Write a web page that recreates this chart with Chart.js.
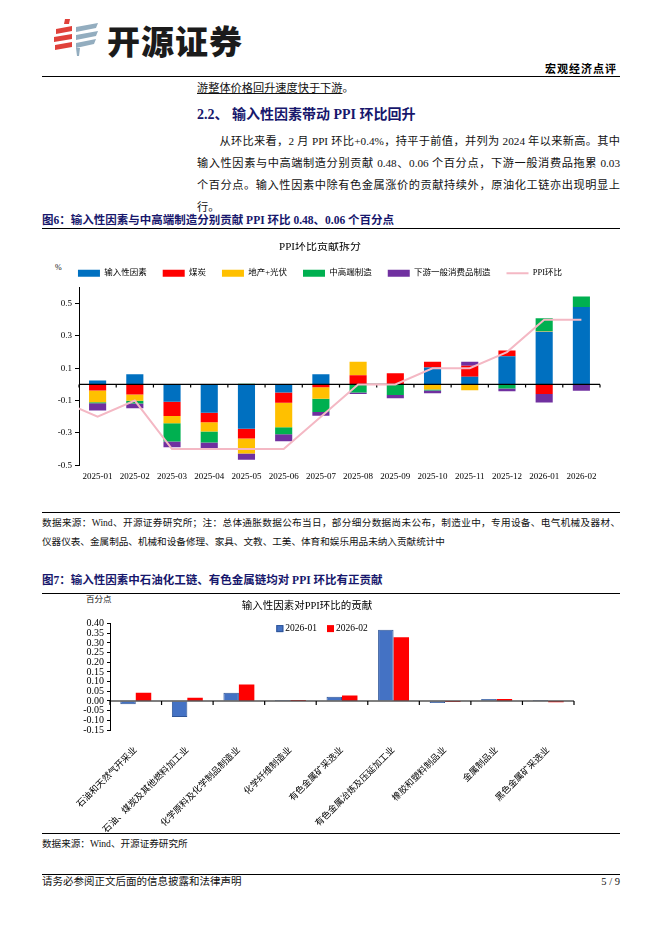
<!DOCTYPE html>
<html lang="zh-CN">
<head>
<meta charset="utf-8">
<title>宏观经济点评</title>
<script src="https://cdn.jsdelivr.net/npm/chart.js@4.4.1/dist/chart.umd.min.js"></script>
<style>
  html, body { margin:0; padding:0; background:#fff; }
  body  { width:662px; height:936px; position:relative; overflow:hidden;
          font-family:'Liberation Serif','Noto Sans CJK SC',serif; color:#111; }
  .t    { position:absolute; white-space:nowrap; }
  .rule { position:absolute; left:42px; width:578px; border-top:1.4px solid #000; }
  .navy { color:#17176c; font-weight:bold; }
  .jl   { display:block; white-space:nowrap; text-align:justify; text-align-last:justify; }
  .chart{ position:absolute; }
</style>
</head>
<body>

<!-- ─── Header ─────────────────────────────────────────────── -->
<svg class="t" style="left:52px;top:19px" width="50" height="40" viewBox="0 0 50 40">
  <polygon points="13,0 18,0 17,5 12,5" fill="#e0413a"/>
  <polygon points="4,10 20,7 20,12 4,15" fill="#e0413a"/>
  <polygon points="2,18 20,15 20,20 2,23" fill="#e0413a"/>
  <polygon points="3,26 20,23 20,28 3,31" fill="#e0413a"/>
  <polygon points="24,8 46,4 44,9 24,13" fill="#93adbf"/>
  <polygon points="24,16 46,12 44,17 24,21" fill="#93adbf"/>
  <polygon points="24,24 44,20 42,25 24,29" fill="#93adbf"/>
  <polygon points="24,29 28,29 27,37 25,37" fill="#93adbf"/>
</svg>
<div class="t" style="left:107px;top:16px;font:900 33px 'Noto Sans CJK SC';letter-spacing:1px;color:#1b1b1b">开源证券</div>
<div class="t" style="right:45px;top:60px;font:bold 11px 'Noto Sans CJK SC';letter-spacing:1px;color:#000">宏观经济点评</div>
<div class="rule" style="top:76px"></div>

<!-- ─── Body text ──────────────────────────────────────────── -->
<div class="t" style="left:197px;top:80px;font-size:11.2px;line-height:16px"><span style="text-decoration:underline">游整体价格回升速度快于下游</span>。</div>
<div class="t navy" style="left:197px;top:106px;font-size:14px;line-height:18px">2.2、 输入性因素带动 PPI 环比回升</div>
<div class="t" style="left:197px;top:130px;width:423px;font-size:11.2px;line-height:22px;white-space:normal">
  <span class="jl" style="text-indent:2em">从环比来看，2 月 PPI 环比+0.4%，持平于前值，并列为 2024 年以来新高。其中</span>
  <span class="jl">输入性因素与中高端制造分别贡献 0.48、0.06 个百分点，下游一般消费品拖累 0.03</span>
  <span class="jl">个百分点。输入性因素中除有色金属涨价的贡献持续外，原油化工链亦出现明显上</span>
  <span style="display:block">行。</span>
</div>

<div class="t navy" style="left:42px;top:212px;font-size:11.5px;line-height:16px">图6：输入性因素与中高端制造分别贡献 PPI 环比 0.48、0.06 个百分点</div>
<div class="rule" style="top:228px"></div>
<div class="t" style="left:55px;top:262px;font-size:8px;line-height:12px">%</div>
<div class="chart" style="left:40px;top:242px;width:580px;height:246px"><canvas id="c1"></canvas></div>

<div class="rule" style="top:512px"></div>
<div class="t" style="left:42px;top:513px;width:578px;font-size:9.6px;line-height:19px;white-space:normal">
  <span class="jl">数据来源：Wind、开源证券研究所；注：总体通胀数据公布当日，部分细分数据尚未公布，制造业中，专用设备、电气机械及器材、</span>
  <span style="display:block">仪器仪表、金属制品、机械和设备修理、家具、文教、工美、体育和娱乐用品未纳入贡献统计中</span>
</div>

<div class="t navy" style="left:42px;top:572px;font-size:11.5px;line-height:16px">图7：输入性因素中石油化工链、有色金属链均对 PPI 环比有正贡献</div>
<div class="rule" style="top:593px"></div>
<div class="t" style="left:86px;top:593px;font-size:8.5px;line-height:12px">百分点</div>
<div class="chart" style="left:40px;top:596px;width:564px;height:236px"><canvas id="c2"></canvas></div>

<div class="rule" style="top:833px"></div>
<div class="t" style="left:42px;top:837px;font-size:9.6px;line-height:14px">数据来源：Wind、开源证券研究所</div>

<!-- ─── Footer ─────────────────────────────────────────────── -->
<div class="rule" style="top:874px;border-top-width:1.6px"></div>
<div class="t" style="left:42px;top:874px;font-size:10.5px;line-height:16px">请务必参阅正文后面的信息披露和法律声明</div>
<div class="t" style="right:42px;top:874px;font-size:10.5px;line-height:16px">5 / 9</div>

<script>
// ─── Data: PPI month-on-month contribution split (%) ─────────────────────────
const months      = ['2025-01','2025-02','2025-03','2025-04','2025-05','2025-06','2025-07',
                     '2025-08','2025-09','2025-10','2025-11','2025-12','2026-01','2026-02'];
const inputFactor = [0.025, 0.063, -0.107, -0.175, -0.274, -0.050, 0.063, 0, 0, 0.105, 0.048, 0.175, 0.326, 0.480];
const coal        = [-0.038, -0.063, -0.088, -0.059, -0.061, -0.063, -0.017, 0.057, 0.069, 0.036, 0.067, 0.035, -0.059, -0.004];
const propertyPV  = [-0.072, -0.038, -0.046, -0.057, -0.093, -0.152, -0.072, 0.084, 0, -0.032, -0.036, 0, 0.003, 0];
const midHighMfg  = [-0.006, -0.017, -0.112, -0.069, 0.004, -0.044, -0.082, -0.050, -0.065, -0.006, 0, -0.025, 0.080, 0.065];
const consumerMfg = [-0.046, -0.029, -0.036, -0.036, -0.038, -0.042, -0.023, -0.010, -0.021, -0.017, 0.025, -0.017, -0.053, -0.035];
const ppiMoM      = [-0.2, -0.1, -0.4, -0.4, -0.4, -0.4, -0.2, 0, 0, 0.1, 0.1, 0.2, 0.4, 0.4];
const ppiPrev     = -0.1;   // 2024-12 — only the stub of its segment shows at the axis
const yTicks1     = [-0.5, -0.3, -0.1, 0.1, 0.3, 0.5];

// ─── Data: input-factor industries, contribution (pct pts) ──────────────────
const industries  = ['石油和天然气开采业','石油、煤炭及其他燃料加工业','化学原料及化学制品制造业','化学纤维制造业',
                     '有色金属矿采选业','有色金属冶炼及压延加工业','橡胶和塑料制品业','金属制品业','黑色金属矿采选业'];
const jan26       = [-0.017, -0.083, 0.043, 0.005, 0.022, 0.368, -0.010, 0.010, 0.005];
const feb26       = [0.043, 0.017, 0.085, 0.005, 0.028, 0.329, -0.005, 0.010, -0.006];
const yTicks2     = [-0.15, -0.10, -0.05, 0, 0.05, 0.10, 0.15, 0.20, 0.25, 0.30, 0.35, 0.40];

const FONT = "'Liberation Serif','Noto Sans CJK SC',serif";
Chart.defaults.font.family = FONT;
Chart.defaults.color = '#000';
Chart.defaults.animation = false;

// black axis at y=0 with small marks on category boundaries (drawn under the line series)
function drawZeroAxis(chart, opts) {
  const { ctx, chartArea: a, scales } = chart;
  const y0 = scales.y.getPixelForValue(0);
  ctx.save();
  ctx.strokeStyle = '#000';
  ctx.lineWidth = 1.2;
  ctx.beginPath();
  ctx.moveTo(a.left, y0); ctx.lineTo(a.right, y0);
  (opts.ticks || []).forEach(v => {
    const x = scales.x.getPixelForValue(v);
    ctx.moveTo(x, y0); ctx.lineTo(x, y0 + opts.tickLen);
  });
  ctx.stroke();
  ctx.restore();
}
const zeroAxis = {
  id: 'zeroAxis',
  beforeDatasetsDraw(chart) { chart.$zeroDone = false; },
  beforeDatasetDraw(chart, args, opts) {
    if (args.meta.type === 'line') { drawZeroAxis(chart, opts); chart.$zeroDone = true; }
  },
  afterDatasetsDraw(chart, args, opts) { if (!chart.$zeroDone) drawZeroAxis(chart, opts); }
};

// small horizontal legend sitting inside the top of the plot (fig 7)
const insideLegend = {
  id: 'insideLegend',
  afterDraw(chart, args, opts) {
    const { ctx, chartArea } = chart;
    const items = chart.data.datasets;
    ctx.save();
    ctx.font = `${opts.size}px ${FONT}`;
    ctx.textBaseline = 'middle';
    const widths = items.map(ds => opts.box + opts.gap + ctx.measureText(ds.label).width);
    const total = widths.reduce((s, w) => s + w, 0) + opts.spacing * (items.length - 1);
    let x = chart.width / 2 - total / 2;
    const y = chartArea.top + opts.offsetY;
    items.forEach((ds, i) => {
      ctx.fillStyle = ds.backgroundColor;
      ctx.fillRect(x, y - opts.box / 2, opts.box, opts.box);
      if (ds.borderWidth) {
        ctx.strokeStyle = ds.borderColor; ctx.lineWidth = 1;
        ctx.strokeRect(x + 0.5, y - opts.box / 2 + 0.5, opts.box - 1, opts.box - 1);
      }
      ctx.fillStyle = '#000';
      ctx.fillText(ds.label, x + opts.box + opts.gap, y);
      x += widths[i] + opts.spacing;
    });
    ctx.restore();
  }
};

// ─── Chart 1: stacked contributions + PPI line ───────────────────────────────
const pts = arr => arr.map((v, i) => ({ x: i + 1, y: v }));
const stackBar = (label, data, color) => ({
  type: 'bar', label, data: pts(data), backgroundColor: color, borderWidth: 0,
  barPercentage: 0.46, categoryPercentage: 1, stack: 'mix'
});

new Chart(document.getElementById('c1'), {
  type: 'bar',
  data: {
    datasets: [
      stackBar('输入性因素', inputFactor, '#0070C0'),
      stackBar('煤炭', coal, '#FF0000'),
      stackBar('地产+光伏', propertyPV, '#FFC000'),
      stackBar('中高端制造', midHighMfg, '#00B050'),
      stackBar('下游一般消费品制造', consumerMfg, '#7030A0'),
      { type: 'line', label: 'PPI环比', data: [{ x: 0, y: ppiPrev }, ...pts(ppiMoM)],
        borderColor: '#F4B8C4', borderWidth: 2, pointRadius: 0, tension: 0, order: -1, stack: 'ppi' }
    ]
  },
  options: {
    responsive: true, maintainAspectRatio: false,
    layout: { padding: { left: 0, right: 20, top: 0, bottom: 0 } },
    plugins: {
      title: { display: true, text: 'PPI环比贡献拆分', font: { size: 11, weight: 'normal', lineHeight: 1 }, padding: 0 },
      legend: {
        position: 'top',
        labels: {
          usePointStyle: true, pointStyleWidth: 22, boxHeight: 7, padding: 16, font: { size: 8.5 },
          generateLabels: chart => chart.data.datasets.map((ds, i) => ({
            text: ds.label, datasetIndex: i, hidden: false,
            fillStyle: ds.type === 'line' ? ds.borderColor : ds.backgroundColor,
            strokeStyle: ds.type === 'line' ? ds.borderColor : ds.backgroundColor,
            lineWidth: ds.type === 'line' ? 2 : 0,
            pointStyle: ds.type === 'line' ? 'line' : 'rect'
          }))
        }
      },
      tooltip: { enabled: false },
      zeroAxis: { ticks: [...months.keys(), months.length].map(i => i + 0.5), tickLen: 3 }
    },
    scales: {
      x: {
        type: 'linear', offset: false, stacked: true, min: 0.5, max: months.length + 0.5,
        afterBuildTicks: s => { s.ticks = months.map((_, i) => ({ value: i + 1 })); },
        ticks: { callback: v => months[v - 1], font: { size: 9 }, padding: 6, maxRotation: 0, autoSkip: false },
        grid: { display: false, drawTicks: false, offset: false }, border: { display: false }
      },
      y: {
        stacked: true, min: -0.5, max: 0.6,
        afterBuildTicks: s => { s.ticks = yTicks1.map(v => ({ value: v })); },
        afterFit: s => { s.width = 39; },
        ticks: { callback: v => v.toFixed(1), font: { size: 9 }, padding: 3, autoSkip: false },
        grid: { drawOnChartArea: false, tickLength: 4, color: '#000' },
        border: { color: '#000', width: 1 }
      }
    }
  },
  plugins: [zeroAxis]
});

// ─── Chart 2: input-factor breakdown, Jan vs Feb 2026 ───────────────────────
new Chart(document.getElementById('c2'), {
  type: 'bar',
  data: {
    labels: industries,
    datasets: [
      { label: '2026-01', data: jan26, backgroundColor: '#4472C4', borderColor: '#2F5597', borderWidth: 1 },
      { label: '2026-02', data: feb26, backgroundColor: '#FF0000', borderWidth: 0 }
    ]
  },
  options: {
    responsive: true, maintainAspectRatio: false,
    layout: { padding: { left: 0, right: 30, top: 0, bottom: 0 } },
    datasets: { bar: { categoryPercentage: 0.6, barPercentage: 1 } },
    plugins: {
      title: { display: true, text: '输入性因素对PPI环比的贡献', font: { size: 10.5, weight: 'normal' }, padding: { top: 4, bottom: 11 } },
      legend: { display: false },
      insideLegend: { size: 9.5, box: 7, gap: 2, spacing: 10, offsetY: 5 },
      tooltip: { enabled: false },
      zeroAxis: { ticks: [...industries.keys(), industries.length].map(i => i - 0.5), tickLen: 4 }
    },
    scales: {
      x: {
        afterFit: s => { s.height = 102; },
        ticks: { font: { size: 9 }, minRotation: 45, maxRotation: 45, autoSkip: false, padding: 7 },
        grid: { display: false }, border: { display: false }
      },
      y: {
        min: -0.15, max: 0.40,
        afterBuildTicks: s => { s.ticks = yTicks2.map(v => ({ value: v })); },
        afterFit: s => { s.width = 70; },
        ticks: { callback: v => v.toFixed(2), font: { size: 10 }, padding: 3, autoSkip: false },
        grid: { drawOnChartArea: false, tickLength: 3, color: '#000' },
        border: { color: '#000' }
      }
    }
  },
  plugins: [zeroAxis, insideLegend]
});
</script>
</body>
</html>
